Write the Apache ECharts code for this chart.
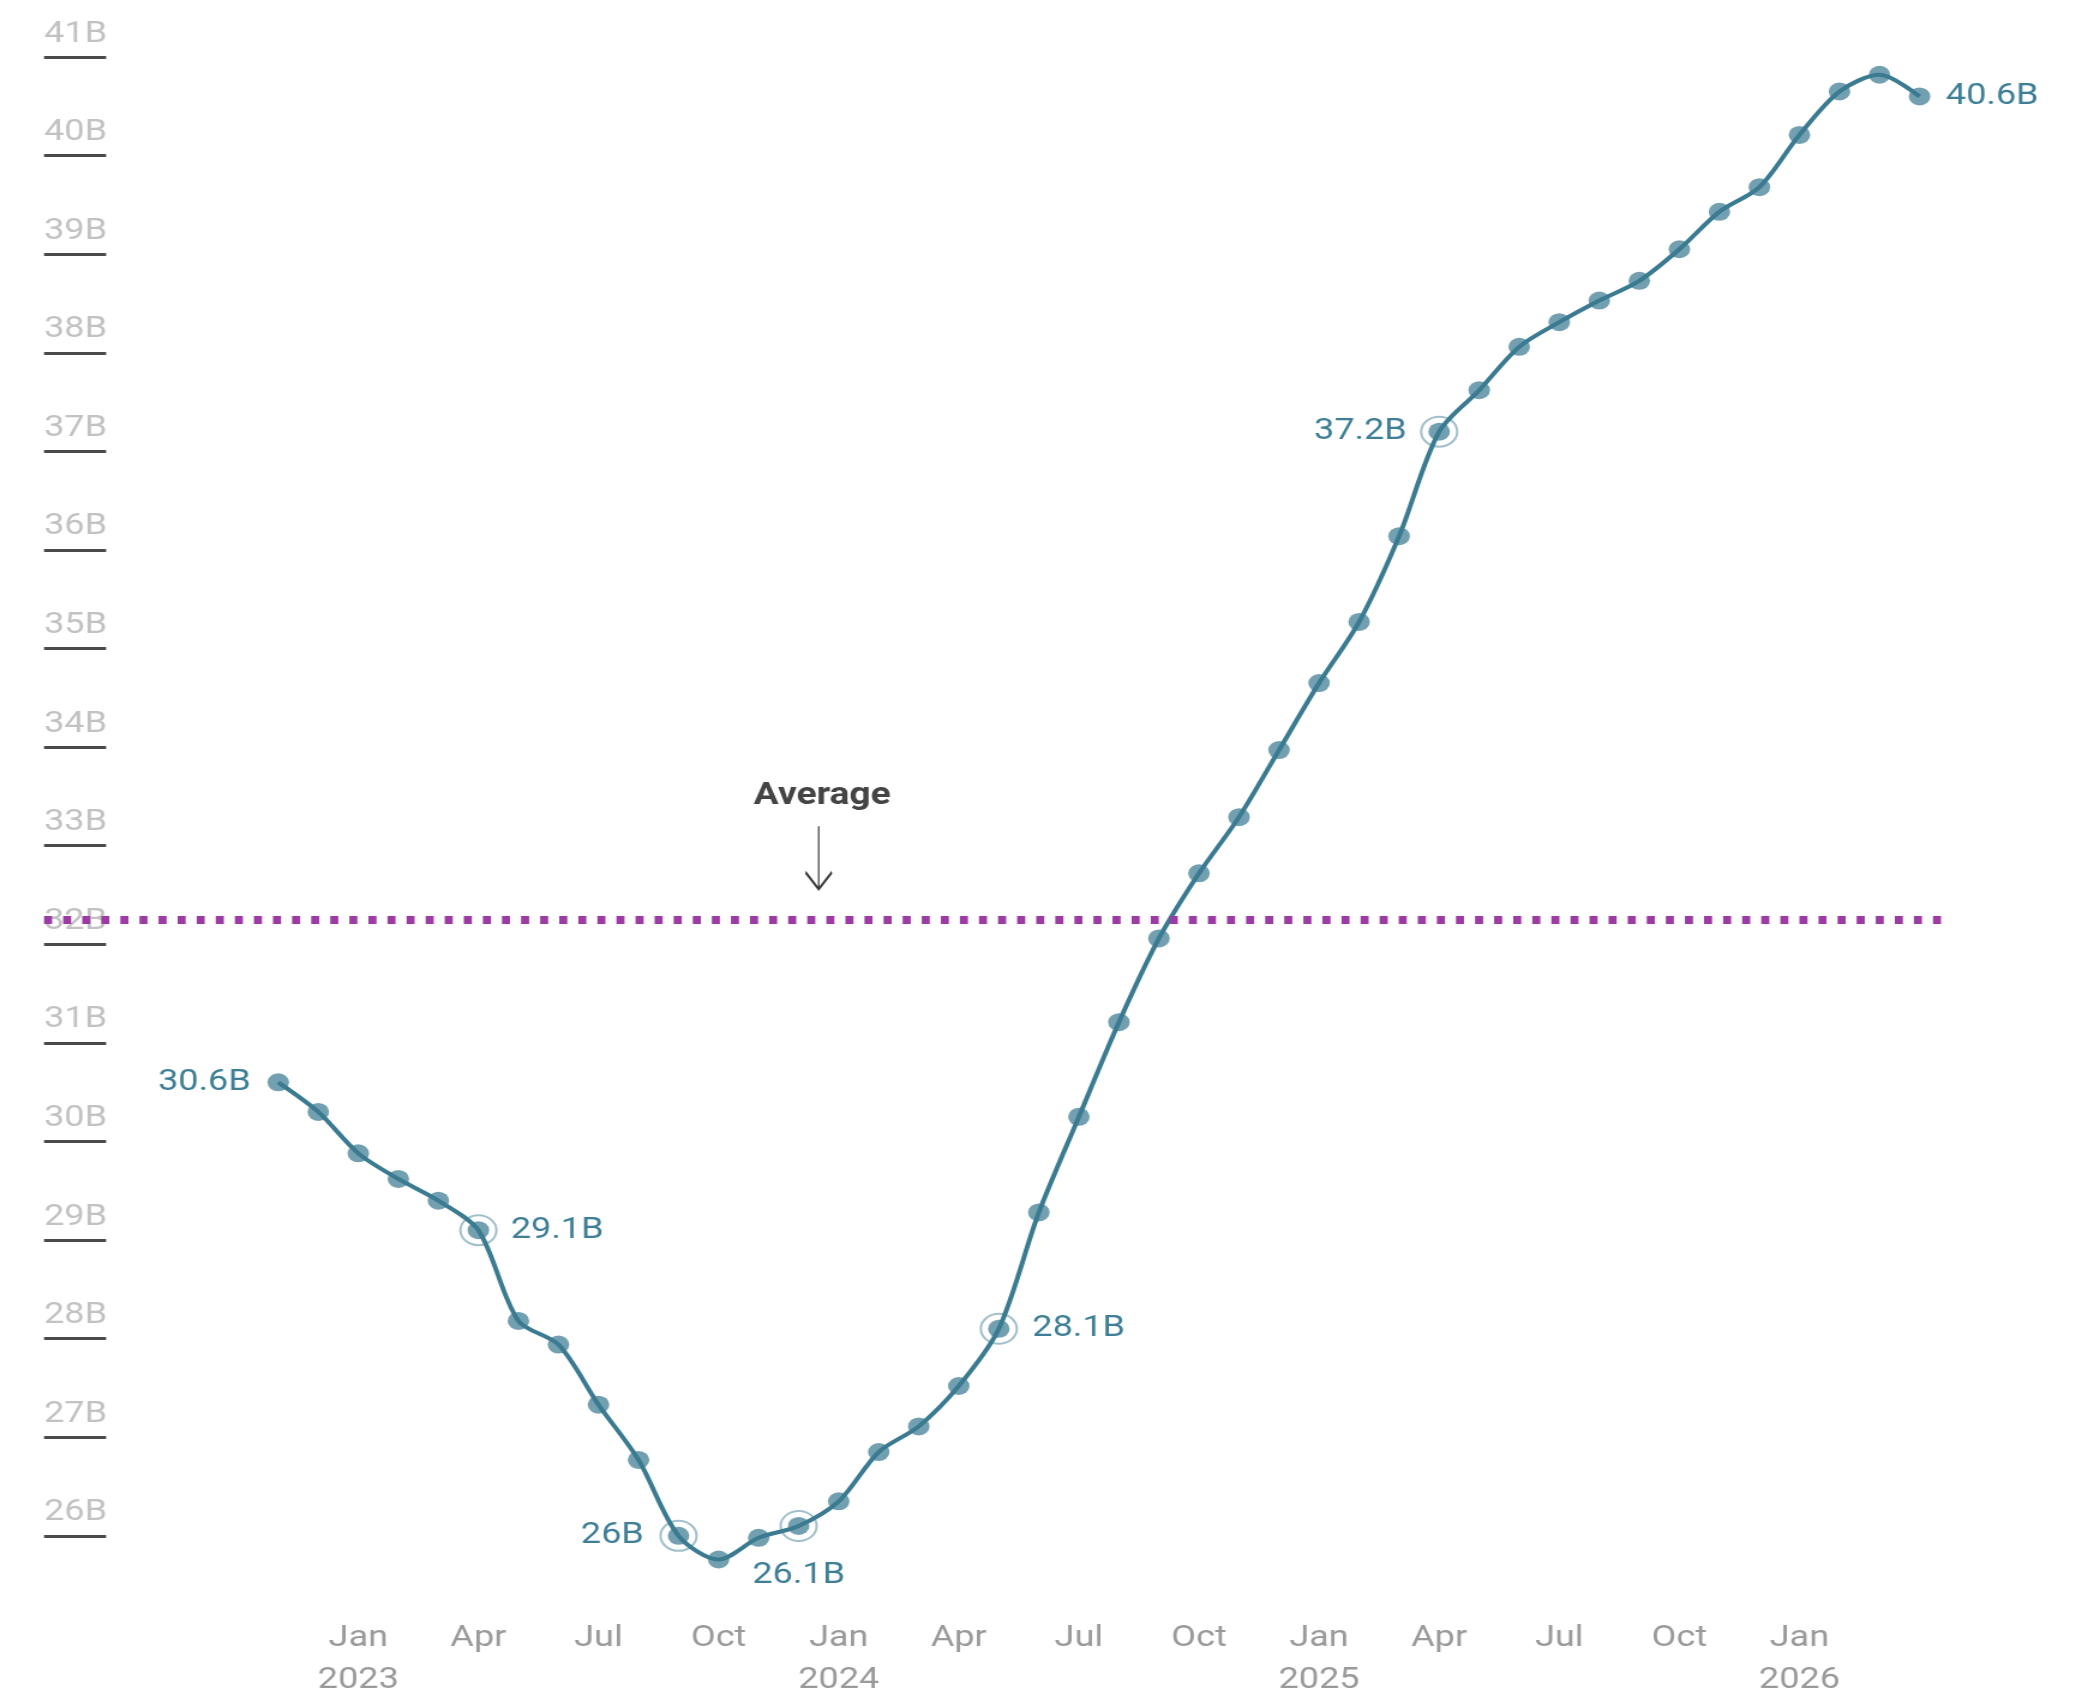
<!DOCTYPE html>
<html>
<head>
<meta charset="utf-8">
<title>Monthly total (B)</title>
<script src="https://cdn.jsdelivr.net/npm/echarts@6/dist/echarts.min.js"></script>
<style>
  html, body { margin: 0; padding: 0; background: #ffffff; overflow: hidden; }
  /* the chart is laid out on a narrower canvas and widened 1.2x */
  #chart { width: 1737.5px; height: 1701px; transform: scaleX(1.2); transform-origin: 0 0; }
</style>
</head>
<body>
<div id="chart"></div>
<script>
// Monthly values, in billions
const months = [
  '2022-11', '2022-12', '2023-01', '2023-02', '2023-03', '2023-04',
  '2023-05', '2023-06', '2023-07', '2023-08', '2023-09', '2023-10',
  '2023-11', '2023-12', '2024-01', '2024-02', '2024-03', '2024-04',
  '2024-05', '2024-06', '2024-07', '2024-08', '2024-09', '2024-10',
  '2024-11', '2024-12', '2025-01', '2025-02', '2025-03', '2025-04',
  '2025-05', '2025-06', '2025-07', '2025-08', '2025-09', '2025-10',
  '2025-11', '2025-12', '2026-01', '2026-02', '2026-03', '2026-04'
];
const values = [
  30.6, 30.3, 29.88, 29.62, 29.4, 29.1,
  28.18, 27.94, 27.33, 26.77, 26.0, 25.76,
  25.98, 26.1, 26.35, 26.85, 27.11, 27.52,
  28.1, 29.28, 30.25, 31.21, 32.06, 32.72,
  33.29, 33.97, 34.65, 35.27, 36.14, 37.2,
  37.62, 38.06, 38.31, 38.53, 38.73, 39.05,
  39.43, 39.68, 40.21, 40.65, 40.82, 40.6
];
const average = 32.25;

// Months that carry a value callout, and those that also get a ring
const calloutMonths = ['2022-11', '2023-04', '2023-09', '2023-12', '2024-05', '2025-04', '2026-04'];
const ringMonths = ['2023-04', '2023-09', '2023-12', '2024-05', '2025-04'];

// Axis ticks
const yTicks = [26, 27, 28, 29, 30, 31, 32, 33, 34, 35, 36, 37, 38, 39, 40, 41];
const xTickMonths = [
  '2023-01', '2023-04', '2023-07', '2023-10',
  '2024-01', '2024-04', '2024-07', '2024-10',
  '2025-01', '2025-04', '2025-07', '2025-10',
  '2026-01'
];
const monthNames = ['Jan', 'Feb', 'Mar', 'Apr', 'May', 'Jun', 'Jul', 'Aug', 'Sep', 'Oct', 'Nov', 'Dec'];

// ---- helpers ----
const BASE_YEAR = 2023;
function monthIndex(ym) {
  const [y, m] = ym.split('-').map(Number);
  return (y - BASE_YEAR) * 12 + (m - 1);
}
function tickText(idx) {
  const m = ((idx % 12) + 12) % 12;
  const y = BASE_YEAR + Math.floor(idx / 12);
  return m === 0 ? monthNames[m] + '\n' + y : monthNames[m];
}
const fmtB = v => (Math.round(v * 10) / 10) + 'B';

const TEAL = '#3b7b91';
const TEAL_DOT = 'rgba(59,123,145,0.72)';
const TEXT_TEAL = '#3e7f96';

const calloutPlacement = {
  '2022-11': { position: 'left', distance: 14 },
  '2023-04': { position: 'right', distance: 18 },
  '2023-09': { position: 'left', distance: 20 },
  '2023-12': { position: 'bottom', distance: 26 },
  '2024-05': { position: 'right', distance: 19 },
  '2025-04': { position: 'left', distance: 18 },
  '2026-04': { position: 'right', distance: 13 }
};

const lineData = months.map((ym, i) => {
  const item = { value: [monthIndex(ym), values[i]] };
  if (calloutMonths.includes(ym)) {
    const p = calloutPlacement[ym];
    item.label = {
      show: true,
      position: p.position,
      distance: p.distance,
      formatter: d => fmtB(d.value[1]),
      color: TEXT_TEAL,
      fontSize: 30,
      fontFamily: 'Roboto'
    };
  }
  return item;
});

const ringData = ringMonths.map(ym => [monthIndex(ym), values[months.indexOf(ym)]]);

// Average callout sits between Dec 2023 and Jan 2024
const avgNoteX = (monthIndex('2023-12') + monthIndex('2024-01')) / 2;

const chart = echarts.init(document.getElementById('chart'), null, { renderer: 'canvas' });

chart.setOption({
  backgroundColor: '#ffffff',
  animation: false,
  textStyle: { fontFamily: 'Roboto' },
  grid: { left: 36.7, right: 111.7, top: 57, bottom: 98.5, containLabel: false },
  xAxis: {
    type: 'value',
    min: -7.85,
    max: 39.8,
    axisLine: { show: false },
    axisTick: { show: false },
    splitLine: { show: false },
    axisLabel: {
      customValues: xTickMonths.map(monthIndex),
      formatter: v => tickText(Math.round(v)),
      color: '#9a9a9a',
      fontSize: 30,
      lineHeight: 42,
      margin: 22,
      fontFamily: 'Roboto'
    }
  },
  yAxis: {
    type: 'value',
    min: 25.4,
    max: 41,
    axisLine: { show: false, onZero: false },
    splitLine: { show: false },
    axisTick: {
      show: true,
      inside: true,
      length: 51.7,
      customValues: yTicks,
      lineStyle: { color: '#4a4a4a', width: 3 }
    },
    axisLabel: {
      inside: true,
      customValues: yTicks,
      formatter: v => v + 'B',
      color: '#c2c2c2',
      fontSize: 30,
      margin: 0,
      verticalAlign: 'bottom',
      padding: [0, 0, 8, 0],
      fontFamily: 'Roboto'
    }
  },
  series: [
    {
      type: 'line',
      data: lineData,
      smooth: 0.3,
      symbol: 'circle',
      symbolSize: 18,
      showAllSymbol: true,
      lineStyle: { color: TEAL, width: 4 },
      itemStyle: { color: TEAL_DOT },
      z: 3,
      markLine: {
        silent: true,
        symbol: ['none', 'none'],
        label: { show: false },
        lineStyle: { color: '#9b3ba3', width: 8, type: [6.7, 9.2], cap: 'butt' },
        data: [{ yAxis: average }],
        z: 4
      },
      markPoint: {
        silent: true,
        data: [{
          coord: [avgNoteX, average],
          symbol: 'path://M11,0 L11,63 M1,46 L11,63 L21,46',
          symbolSize: [22, 63],
          symbolOffset: [0, -62],
          itemStyle: { color: 'none', borderColor: '#3a3a3a', borderWidth: 2 },
          label: {
            show: true,
            position: 'top',
            distance: 10,
            offset: [3, 0],
            formatter: 'Average',
            color: '#444444',
            fontWeight: 'bold',
            fontSize: 31,
            fontFamily: 'Roboto'
          }
        }]
      }
    },
    {
      type: 'scatter',
      data: ringData,
      symbol: 'circle',
      symbolSize: 30,
      silent: true,
      itemStyle: { color: 'rgba(255,255,255,0)', borderColor: 'rgba(59,123,145,0.6)', borderWidth: 2 },
      z: 2
    }
  ]
});
</script>
</body>
</html>
